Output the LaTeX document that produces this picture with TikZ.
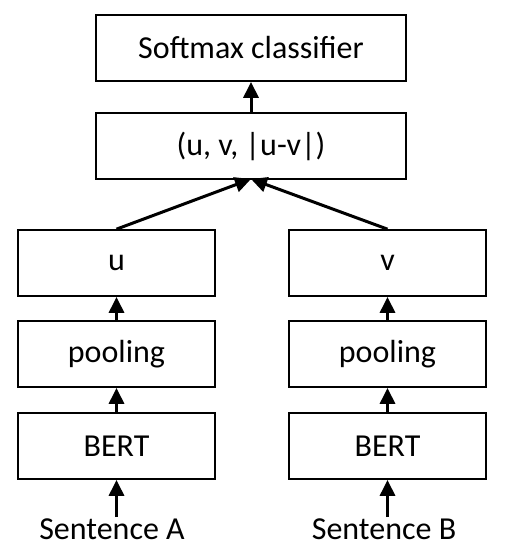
\documentclass[tikz,border=0pt]{standalone}
\usepackage{fontspec}
\setmainfont{Carlito}
\usetikzlibrary{arrows.meta}
\begin{document}
\begin{tikzpicture}[x=1pt,y=-1pt,
  blk/.style={draw, line width=1.7pt, minimum width=197pt, minimum height=66pt, inner sep=0pt, font=\fontsize{32}{36}\selectfont},
  wide/.style={blk, minimum width=310pt},
  arr/.style={line width=3pt, -{Triangle[length=16pt,width=15pt]}},
  lbl/.style={inner sep=0pt, font=\fontsize{32}{36}\selectfont}]
\useasboundingbox (0,0) rectangle (505,560);
\node[wide] (soft) at (251,48) {Softmax classifier};
\node[wide] (cat) at (251,146) {(u, v, |u-v|)};
\node[blk] (u) at (116.5,263) {u};
\node[blk] (v) at (387.5,263) {v};
\node[blk] (pl) at (116.5,354) {pooling};
\node[blk] (pr) at (387.5,354) {pooling};
\node[blk] (bl) at (116.5,446) {BERT};
\node[blk] (br) at (387.5,446) {BERT};
\node[lbl, anchor=base] (sa) at (112,539) {Sentence A};
\node[lbl, anchor=base] (sb) at (384,539) {Sentence B};
\coordinate (meet) at (251,179);
\draw[arr] (cat.north) -- (soft.south);
\draw[arr] (u.north) -- (meet);
\draw[arr] (v.north) -- (meet);
\draw[arr] (pl.north) -- (u.south);
\draw[arr] (pr.north) -- (v.south);
\draw[arr] (bl.north) -- (pl.south);
\draw[arr] (br.north) -- (pr.south);
\draw[arr] (116.5,517) -- (bl.south);
\draw[arr] (387.5,517) -- (br.south);
\end{tikzpicture}
\end{document}
